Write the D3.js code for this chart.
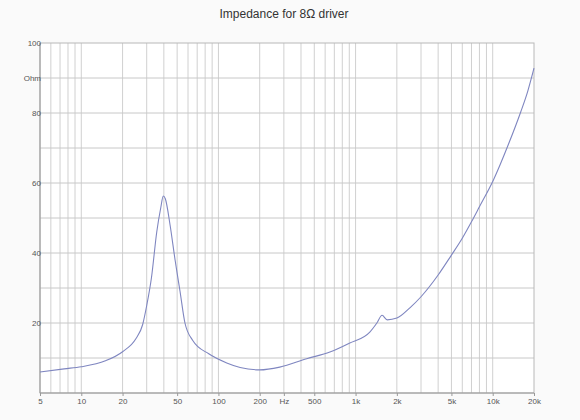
<!DOCTYPE html>
<html>
<head>
<meta charset="UTF-8">
<title>Impedance for 8Ω driver</title>
<style>
  body { margin: 0; padding: 0; background: #fafafa; }
  svg { display: block; font-family: "Liberation Sans", Arial, sans-serif; }
</style>
<script src="https://d3js.org/d3.v7.min.js"></script>
</head>
<body>
<script>
const width = 580;
const height = 420;

// impedance curve
const freqs = [5, 7.5, 10, 15, 20, 25, 28, 30, 32.5, 35.5, 38, 39.6, 41, 44.4, 48.3, 52.5, 57, 65, 85, 115, 144, 200, 280, 440, 650, 900, 1270, 1430, 1560, 1700, 2000, 2500, 3000, 4000, 5000, 6000, 7000, 8000, 10100, 13000, 16000, 18000, 20000];
const ohms  = [6.0, 6.9, 7.5, 9.2, 11.8, 15.5, 19.5, 25, 33, 46, 53, 56.3, 55.5, 48, 38, 29, 20, 15, 11.2, 8.6, 7.3, 6.6, 7.4, 9.8, 11.7, 14.2, 17.4, 20, 22.2, 20.9, 21.4, 24.4, 27.5, 33.7, 39.4, 44.2, 48.9, 53.2, 60.8, 71.0, 80.3, 86.2, 92.8];

const xTickValues = [5, 10, 20, 50, 100, 200, 300, 500, 1000, 2000, 5000, 10000, 20000];
const xTickLabels = ["5", "10", "20", "50", "100", "200", "Hz", "500", "1k", "2k", "5k", "10k", "20k"];
const yTickValues = [20, 40, 60, 80, 90, 100];
const yTickLabels = ["20", "40", "60", "80", "Ohm", "100"];

const margin = {top: 43, right: 46, bottom: 27, left: 40};

const svg = d3.select("body").append("svg")
    .attr("width", width)
    .attr("height", height);

svg.append("rect").attr("width", width).attr("height", height).attr("fill", "#fafafa");

const x = d3.scaleLog()
    .domain([5, 20000])
    .range([margin.left, width - margin.right]);

const y = d3.scaleLinear()
    .domain([0, 100])
    .range([height - margin.bottom, margin.top]);

svg.append("rect")
    .attr("x", margin.left).attr("y", margin.top)
    .attr("width", width - margin.left - margin.right)
    .attr("height", height - margin.top - margin.bottom)
    .attr("fill", "#ffffff");

// vertical grid: every 1..9 of each decade
const minor = [];
[1, 10, 100, 1000, 10000].forEach(dec => {
    for (let k = 1; k <= 9; k++) {
        const f = k * dec;
        if (f > 5 && f < 20000) minor.push(f);
    }
});

svg.append("g")
    .selectAll("line")
    .data(minor)
    .join("line")
    .attr("x1", d => x(d)).attr("x2", d => x(d))
    .attr("y1", y(100)).attr("y2", y(0))
    .attr("stroke", "#d0d0d0")
    .attr("stroke-width", 1);

svg.append("g")
    .selectAll("line")
    .data(d3.range(10, 100, 10))
    .join("line")
    .attr("x1", x(5)).attr("x2", x(20000))
    .attr("y1", d => y(d)).attr("y2", d => y(d))
    .attr("stroke", "#c8c8c8")
    .attr("stroke-width", 1);

// frame
svg.append("rect")
    .attr("x", margin.left).attr("y", margin.top)
    .attr("width", width - margin.left - margin.right)
    .attr("height", height - margin.top - margin.bottom)
    .attr("fill", "none")
    .attr("stroke", "#b8b8b8");

svg.append("line")
    .attr("x1", margin.left).attr("x2", margin.left)
    .attr("y1", y(100)).attr("y2", y(0))
    .attr("stroke", "#999");
svg.append("line")
    .attr("x1", margin.left).attr("x2", x(20000))
    .attr("y1", y(0)).attr("y2", y(0))
    .attr("stroke", "#999");

// axes
const xAxis = d3.axisBottom(x)
    .tickValues(xTickValues)
    .tickFormat((d, i) => xTickLabels[i])
    .tickSize(3);

const gx = svg.append("g")
    .attr("transform", `translate(0,${y(0)})`)
    .call(xAxis);
gx.select(".domain").remove();
gx.selectAll(".tick line").attr("stroke", "#999");
gx.selectAll(".tick text")
    .attr("fill", "#555")
    .attr("font-size", 8)
    .attr("dy", "0.85em")
    .attr("y", 4);

const yAxis = d3.axisLeft(y)
    .tickValues(yTickValues)
    .tickFormat((d, i) => yTickLabels[i])
    .tickSize(0);

const gy = svg.append("g")
    .attr("transform", `translate(${margin.left + 1},0)`)
    .call(yAxis);
gy.select(".domain").remove();
gy.selectAll(".tick text")
    .attr("fill", "#555")
    .attr("font-size", 8)
    .attr("x", 0);

// curve
const pts = freqs.map((f, i) => [f, ohms[i]]);
const line = d3.line()
    .x(d => x(d[0]))
    .y(d => y(d[1]))
    .curve(d3.curveMonotoneX);

svg.append("path")
    .datum(pts)
    .attr("d", line)
    .attr("fill", "none")
    .attr("stroke", "#7f86c0")
    .attr("stroke-width", 1.1);

// title
svg.append("text")
    .attr("x", 284)
    .attr("y", 18)
    .attr("text-anchor", "middle")
    .attr("font-size", 12)
    .attr("fill", "#333")
    .text("Impedance for 8Ω driver");
</script>
</body>
</html>
